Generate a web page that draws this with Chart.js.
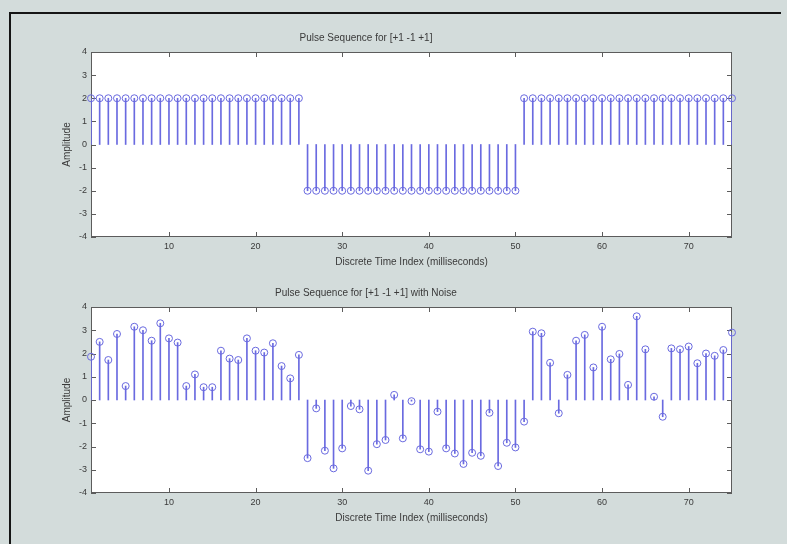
<!DOCTYPE html>
<html>
<head>
<meta charset="utf-8">
<script src="https://cdn.jsdelivr.net/npm/chart.js@4.4.1/dist/chart.umd.min.js"></script>
<style>
  html, body { margin: 0; padding: 0; }
  body { width: 787px; height: 544px; background: #d3dcdb; position: relative; overflow: hidden; }
  #frame { position: absolute; left: 9px; top: 12px; width: 770px; height: 540px;
           border-top: 2px solid #151515; border-left: 2px solid #151515; }
  canvas { position: absolute; left: 0; }
  #pulseChart { top: 0; }
  #noiseChart { top: 272px; }
</style>
</head>
<body>
<div id="frame"></div>
<canvas id="pulseChart" width="787" height="272"></canvas>
<canvas id="noiseChart" width="787" height="272"></canvas>
<script>
// clean bipolar pulse: +1 / -1 / +1 blocks of 25 samples (amplitude 2)
const pulseValues = [
   2,  2,  2,  2,  2,  2,  2,  2,  2,  2,  2,  2,  2,  2,  2,  2,  2,  2,  2,  2,  2,  2,  2,  2,  2,
  -2, -2, -2, -2, -2, -2, -2, -2, -2, -2, -2, -2, -2, -2, -2, -2, -2, -2, -2, -2, -2, -2, -2, -2, -2,
   2,  2,  2,  2,  2,  2,  2,  2,  2,  2,  2,  2,  2,  2,  2,  2,  2,  2,  2,  2,  2,  2,  2,  2,  2
];

// same pulse after noise was added
const noisyValues = [
   1.86,  2.50,  1.72,  2.84,  0.60,  3.15,  3.00,  2.55,  3.30,  2.65,
   2.47,  0.60,  1.10,  0.55,  0.55,  2.12,  1.78,  1.72,  2.65,  2.12,
   2.04,  2.44,  1.46,  0.93,  1.94, -2.50, -0.36, -2.18, -2.94, -2.08,
  -0.26, -0.40, -3.04, -1.90, -1.72,  0.22, -1.65, -0.05, -2.12, -2.22,
  -0.50, -2.08, -2.30, -2.75, -2.27, -2.40, -0.55, -2.84, -1.84, -2.04,
  -0.93,  2.94,  2.87,  1.60, -0.57,  1.08,  2.55,  2.80,  1.40,  3.15,
   1.75,  1.98,  0.65,  3.60,  2.18,  0.14, -0.72,  2.22,  2.18,  2.30,
   1.58,  2.00,  1.90,  2.15,  2.90
];

const xTicks = [10, 20, 30, 40, 50, 60, 70];
const yTicks = [-4, -3, -2, -1, 0, 1, 2, 3, 4];
const xRange = [1, 75];
const yRange = [-4, 4];

const stemColor = '#6a6ae0';
const axisColor = '#5c5c5c';
const textColor = '#3a3a3a';
const family = "'Liberation Sans', Arial, sans-serif";

// white plot area, full box and inward ticks on every side
const boxAxes = {
  id: 'boxAxes',
  beforeDraw(chart) {
    const { ctx, chartArea: a } = chart;
    ctx.save();
    ctx.fillStyle = '#ffffff';
    ctx.fillRect(a.left, a.top, a.right - a.left, a.bottom - a.top);
    ctx.restore();
  },
  beforeDatasetsDraw(chart) {
    const { ctx, chartArea: a, scales: { x, y } } = chart;
    const len = 5;
    ctx.save();
    ctx.strokeStyle = axisColor;
    ctx.lineWidth = 1;
    ctx.beginPath();
    x.ticks.forEach(t => {
      const px = Math.round(x.getPixelForValue(t.value)) + 0.5;
      ctx.moveTo(px, a.bottom); ctx.lineTo(px, a.bottom - len);
      ctx.moveTo(px, a.top); ctx.lineTo(px, a.top + len);
    });
    y.ticks.forEach(t => {
      const py = Math.round(y.getPixelForValue(t.value)) + 0.5;
      ctx.moveTo(a.left, py); ctx.lineTo(a.left + len, py);
      ctx.moveTo(a.right, py); ctx.lineTo(a.right - len, py);
    });
    ctx.stroke();
    ctx.strokeRect(a.left + 0.5, a.top + 0.5, a.right - a.left - 1, a.bottom - a.top - 1);
    ctx.restore();
  }
};

function stemChart(canvasId, title, values, padTop, padBottom) {
  const stems = values.map((v, i) => ({ x: i + 1, y: [0, v] }));
  const heads = values.map((v, i) => ({ x: i + 1, y: v }));

  return new Chart(document.getElementById(canvasId), {
    type: 'bar',
    data: {
      datasets: [
        { type: 'bar', data: stems, backgroundColor: stemColor, barThickness: 1, borderWidth: 0 },
        { type: 'scatter', data: heads, pointStyle: 'circle', pointRadius: 3.5, borderWidth: 1,
          borderColor: stemColor, backgroundColor: 'rgba(0,0,0,0)', clip: false }
      ]
    },
    options: {
      responsive: false,
      animation: false,
      events: [],
      layout: { padding: { left: 0, right: 55, top: padTop, bottom: padBottom } },
      plugins: {
        legend: { display: false },
        tooltip: { enabled: false },
        title: {
          display: true, text: title, color: textColor,
          font: { family, size: 10, weight: 'normal' },
          padding: { top: 6, bottom: 8 }
        }
      },
      scales: {
        x: {
          type: 'linear', min: xRange[0], max: xRange[1], offset: false,
          grid: { display: false, drawTicks: false, offset: false },
          border: { display: false },
          afterBuildTicks: s => { s.ticks = xTicks.map(v => ({ value: v })); },
          afterFit: s => { s.height = 35; },
          ticks: { color: textColor, font: { family, size: 9 }, padding: 4 },
          title: {
            display: true, text: 'Discrete Time Index (milliseconds)', color: textColor,
            font: { family, size: 10 }, padding: { top: 0, bottom: 4 }
          }
        },
        y: {
          type: 'linear', min: yRange[0], max: yRange[1],
          grid: { display: false, drawTicks: false },
          border: { display: false },
          afterBuildTicks: s => { s.ticks = yTicks.map(v => ({ value: v })); },
          afterFit: s => { s.width = 91; },
          ticks: { color: textColor, font: { family, size: 9 }, padding: 4 },
          title: {
            display: true, text: 'Amplitude', color: textColor,
            font: { family, size: 10 }, padding: { top: 61, bottom: 0 }
          }
        }
      }
    },
    plugins: [boxAxes]
  });
}

stemChart('pulseChart', 'Pulse Sequence for [+1 -1 +1]', pulseValues, 26, 0);
stemChart('noiseChart', 'Pulse Sequence for [+1 -1 +1] with Noise', noisyValues, 9, 16);
</script>
</body>
</html>
